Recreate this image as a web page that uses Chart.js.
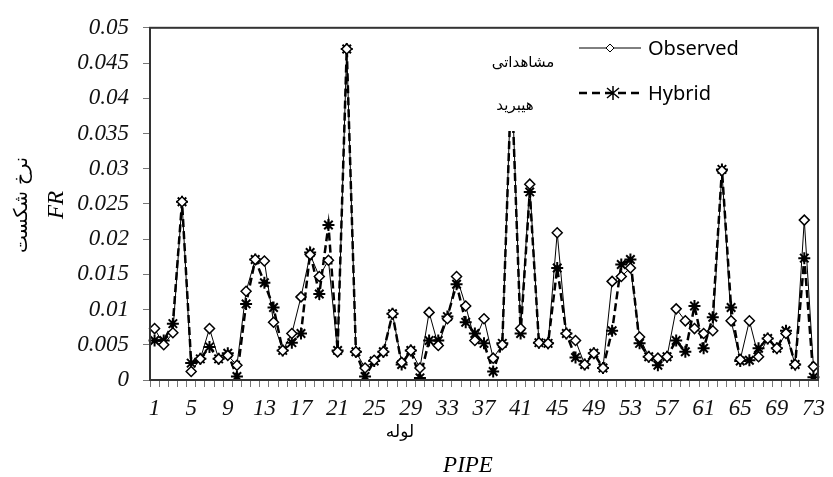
<!DOCTYPE html>
<html>
<head>
<meta charset="utf-8">
<script src="https://cdn.jsdelivr.net/npm/chart.js@4.4.1/dist/chart.umd.min.js"></script>
<style>
  html, body { margin: 0; padding: 0; background: #fff; }
  #wrap { width: 833px; height: 477px; }
</style>
</head>
<body>
<div id="wrap"><canvas id="frChart" width="833" height="477"></canvas></div>
<script>
// pipe numbers (x categories)
const pipes = ['1','2','3','4','5','6','7','8','9','10','11','12','13','14','15','16','17','18','19','20',
  '21','22','23','24','25','26','27','28','29','30','31','32','33','34','35','36','37','38','39','40',
  '41','42','43','44','45','46','47','48','49','50','51','52','53','54','55','56','57','58','59','60',
  '61','62','63','64','65','66','67','68','69','70','71','72','73'];

// failure rate, observed
const observed = [0.0073,0.0050,0.0067,0.0253,0.0012,0.0030,0.0073,0.0030,0.0035,0.0021,
  0.0126,0.0171,0.0169,0.0082,0.0042,0.0066,0.0118,0.0178,0.0147,0.0170,
  0.0040,0.0470,0.0040,0.0017,0.0028,0.0040,0.0094,0.0025,0.0042,0.0017,
  0.0096,0.0049,0.0087,0.0147,0.0105,0.0056,0.0087,0.0031,0.0050,0.0440,
  0.0073,0.0278,0.0053,0.0052,0.0209,0.0066,0.0056,0.0022,0.0038,0.0017,
  0.0140,0.0147,0.0159,0.0061,0.0033,0.0031,0.0033,0.0101,0.0084,0.0073,
  0.0066,0.0070,0.0297,0.0084,0.0029,0.0084,0.0033,0.0059,0.0045,0.0066,
  0.0022,0.0227,0.0019];

// failure rate, hybrid model
const hybrid = [0.0056,0.0056,0.0080,0.0253,0.0024,0.0030,0.0047,0.0030,0.0038,0.0005,
  0.0108,0.0171,0.0138,0.0103,0.0042,0.0053,0.0066,0.0181,0.0122,0.0220,
  0.0042,0.0470,0.0040,0.0005,0.0027,0.0040,0.0094,0.0022,0.0042,0.0003,
  0.0056,0.0056,0.0090,0.0136,0.0082,0.0066,0.0052,0.0012,0.0052,0.0430,
  0.0066,0.0267,0.0053,0.0052,0.0159,0.0066,0.0032,0.0022,0.0038,0.0017,
  0.0070,0.0164,0.0171,0.0052,0.0033,0.0021,0.0033,0.0056,0.0040,0.0105,
  0.0045,0.0089,0.0299,0.0103,0.0027,0.0028,0.0045,0.0059,0.0045,0.0070,
  0.0022,0.0173,0.0004];

const serifItalic = { family: '"Liberation Serif", "DejaVu Serif", serif', size: 23, style: 'italic' };

// frame, legend inside the plot and the axis titles
const extras = {
  id: 'extras',
  afterDatasetsDraw(chart) {
    const ctx = chart.ctx;
    const a = chart.chartArea;
    ctx.save();

    // white box behind the persian legend words (hides the top of the peak)
    ctx.fillStyle = '#fff';
    ctx.fillRect(482, 36, 80, 95);

    ctx.strokeStyle = '#333';
    ctx.lineWidth = 2;
    ctx.strokeRect(a.left, a.top, a.right - a.left, a.bottom - a.top);

    ctx.fillStyle = '#000';
    ctx.textAlign = 'center';
    ctx.textBaseline = 'middle';
    ctx.font = '15px "DejaVu Sans", sans-serif';
    ctx.fillText('مشاهداتی', 523, 63);
    ctx.fillText('هیبرید', 515, 106);

    // legend
    ctx.strokeStyle = '#000';
    ctx.lineWidth = 1;
    ctx.beginPath(); ctx.moveTo(579, 48); ctx.lineTo(641, 48); ctx.stroke();
    ctx.fillStyle = '#fff';
    ctx.beginPath();
    ctx.moveTo(610, 44); ctx.lineTo(614, 48); ctx.lineTo(610, 52); ctx.lineTo(606, 48); ctx.closePath();
    ctx.fill(); ctx.stroke();

    ctx.lineWidth = 2.5;
    ctx.setLineDash([8, 5]);
    ctx.beginPath(); ctx.moveTo(579, 93); ctx.lineTo(641, 93); ctx.stroke();
    ctx.setLineDash([]);
    ctx.lineWidth = 1.5;
    ctx.beginPath();
    ctx.moveTo(613, 86); ctx.lineTo(613, 100);
    ctx.moveTo(607, 88); ctx.lineTo(619, 98);
    ctx.moveTo(619, 88); ctx.lineTo(607, 98);
    ctx.stroke();

    ctx.fillStyle = '#000';
    ctx.textAlign = 'left';
    ctx.font = '20px "Noto Sans", "Open Sans", sans-serif';
    ctx.fillText('Observed', 648, 49);
    ctx.fillText('Hybrid', 648, 94);

    // x titles
    ctx.textAlign = 'center';
    ctx.font = '17px "DejaVu Sans", sans-serif';
    ctx.fillText('لوله', 400, 433);
    ctx.font = 'italic 23px "Liberation Serif", serif';
    ctx.fillText('PIPE', 468, 466);

    // y titles
    ctx.save();
    ctx.translate(57, 205);
    ctx.rotate(-Math.PI / 2);
    ctx.font = 'italic 23px "Liberation Serif", serif';
    ctx.fillText('FR', 0, 0);
    ctx.restore();
    ctx.save();
    ctx.translate(22, 205);
    ctx.rotate(-Math.PI / 2);
    ctx.font = '19px "DejaVu Sans", sans-serif';
    ctx.fillText('نرخ شکست', 0, 0);
    ctx.restore();

    ctx.restore();
  }
};

new Chart(document.getElementById('frChart'), {
  type: 'line',
  data: {
    labels: pipes,
    datasets: [
      {
        label: 'Observed',
        data: observed,
        borderColor: '#000',
        borderWidth: 1,
        pointStyle: 'rectRot',
        pointRadius: 5,
        pointBorderWidth: 1.5,
        pointBackgroundColor: '#fff',
        pointBorderColor: '#000',
        tension: 0
      },
      {
        label: 'Hybrid',
        data: hybrid,
        borderColor: '#000',
        borderWidth: 2.5,
        borderDash: [8, 4],
        pointStyle: 'star',
        pointRadius: 6,
        pointBorderWidth: 2,
        pointBorderColor: '#000',
        pointBackgroundColor: '#000',
        tension: 0
      }
    ]
  },
  options: {
    responsive: false,
    animation: false,
    layout: { padding: { top: 24, right: 8, left: 0, bottom: 0 } },
    plugins: {
      legend: { display: false },
      tooltip: { enabled: false }
    },
    scales: {
      x: {
        type: 'category',
        offset: true,
        afterFit(scale) { scale.height = 97; },
        grid: { offset: true, drawOnChartArea: false, drawTicks: true, tickLength: 7, color: '#777' },
        border: { display: true, color: '#444', width: 2 },
        ticks: {
          autoSkip: false,
          maxRotation: 0,
          padding: 8,
          color: '#111',
          font: serifItalic,
          callback(value, index) { return index % 4 === 0 ? this.getLabelForValue(value) : ''; }
        }
      },
      y: {
        min: 0,
        max: 0.05,
        afterFit(scale) { scale.width = 150; },
        grid: { drawOnChartArea: false, drawTicks: true, tickLength: 7, color: '#777' },
        border: { display: true, color: '#444', width: 2 },
        ticks: {
          stepSize: 0.005,
          padding: 14,
          color: '#111',
          font: serifItalic,
          callback(value) { return String(parseFloat(value.toFixed(3))); }
        }
      }
    }
  },
  plugins: [extras]
});
</script>
</body>
</html>
